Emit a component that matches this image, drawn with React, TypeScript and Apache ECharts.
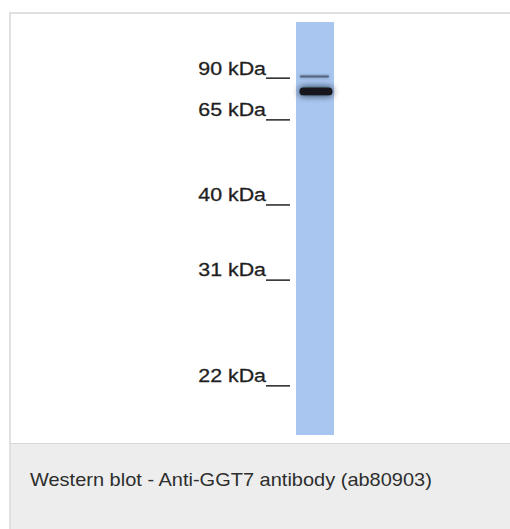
import React, { useEffect, useRef } from "react";
import * as echarts from "echarts";

// Molecular-weight marker ladder (relative migration 0 = top of lane, 1 = bottom)
const markerLabels = ["90 kDa", "65 kDa", "40 kDa", "31 kDa", "22 kDa"];
const markerRf = [0.136, 0.237, 0.443, 0.625, 0.881];

// Detected bands in the single lane
const bandRf = [0.132, 0.168];
const bandThickness = [0.005, 0.019];
const bandStart = [0.1, 0.09];
const bandEnd = [0.87, 0.96];
const bandIntensity = [0.55, 1];

const caption = "Western blot - Anti-GGT7 antibody (ab80903)";

export default function App() {
  const ref = useRef<HTMLDivElement>(null);
  useEffect(() => {
    if (!ref.current) return;
    const chart = echarts.init(ref.current, null, { renderer: "svg" });
    const bandData = bandRf.map((rf, i) => [bandStart[i], bandEnd[i], rf, bandThickness[i], bandIntensity[i]]);
    const markerData = markerRf.map((rf, i) => ({ value: [0, rf], name: markerLabels[i] }));
    chart.setOption({
      animation: false,
      backgroundColor: "#ffffff",
      grid: { left: 296, top: 22, width: 38, height: 413 },
      xAxis: { type: "value", min: 0, max: 1, show: false },
      yAxis: { type: "value", min: 0, max: 1, inverse: true, show: false },
      graphic: [
        { type: "rect", shape: { x: 10, y: 443, width: 500, height: 86 }, style: { fill: "#ecedec" }, z: -10 },
        { type: "line", shape: { x1: 10, y1: 443.5, x2: 510, y2: 443.5 }, style: { stroke: "#d6d8d6", lineWidth: 1 }, z: -9 },
        { type: "line", shape: { x1: 10, y1: 13, x2: 510, y2: 13 }, style: { stroke: "#e0e0e0", lineWidth: 2 }, z: -9 },
        { type: "line", shape: { x1: 10, y1: 12, x2: 10, y2: 529 }, style: { stroke: "#e0e0e0", lineWidth: 2 }, z: -9 },
        {
          type: "text",
          x: 30,
          y: 480,
          scaleX: 1.13,
          style: { text: caption, fontSize: 17.7, fontFamily: "Liberation Sans, Arial, sans-serif", fill: "#2e2e2e", verticalAlign: "middle", align: "left" },
        },
      ],
      series: [
        {
          type: "custom",
          name: "lane",
          data: [[0, 0]],
          z: 1,
          renderItem: (params: any, api: any) => {
            const p0 = api.coord([0, 0]);
            const p1 = api.coord([1, 1]);
            return {
              type: "rect",
              shape: { x: p0[0], y: p0[1], width: p1[0] - p0[0], height: p1[1] - p0[1] },
              style: { fill: "#a9c6f0" },
            };
          },
        },
        {
          type: "custom",
          name: "bands",
          data: bandData,
          z: 2,
          renderItem: (params: any, api: any) => {
            const a = api.coord([api.value(0), api.value(2) - api.value(3) / 2]);
            const b = api.coord([api.value(1), api.value(2) + api.value(3) / 2]);
            const k = api.value(4);
            const h = b[1] - a[1];
            return {
              type: "rect",
              shape: { x: a[0], y: a[1], width: b[0] - a[0], height: h, r: h / 2 },
              style: {
                fill: k > 0.8 ? "#14181e" : "#46556a",
                opacity: k > 0.8 ? 1 : 0.8,
                shadowBlur: k > 0.8 ? 7 : 3,
                shadowColor: k > 0.8 ? "rgba(15,20,30,0.95)" : "rgba(40,55,70,0.7)",
              },
            };
          },
        },
        {
          type: "custom",
          name: "markers",
          data: markerData,
          z: 3,
          renderItem: (params: any, api: any) => {
            const p = api.coord([0, api.value(1)]);
            const x0 = p[0];
            const y = p[1];
            return {
              type: "group",
              children: [
                {
                  type: "line",
                  shape: { x1: x0 - 30, y1: y, x2: x0 - 6, y2: y },
                  style: { stroke: "#222222", lineWidth: 1.5 },
                },
                {
                  type: "text",
                  x: x0 - 30,
                  y: y - 10,
                  scaleX: 1.2,
                  style: {
                    text: markerLabels[params.dataIndex],
                    fontSize: 17.8,
                    fontFamily: "Liberation Sans, Arial, sans-serif",
                    fill: "#1f1f1f",
                    stroke: "#1f1f1f",
                    lineWidth: 0.3,
                    align: "right",
                    verticalAlign: "middle",
                  },
                },
              ],
            };
          },
        },
      ],
    });
    return () => chart.dispose();
  }, []);
  return <div ref={ref} style={{ position: "fixed", left: 0, top: 0, width: 510, height: 529 }} />;
}
